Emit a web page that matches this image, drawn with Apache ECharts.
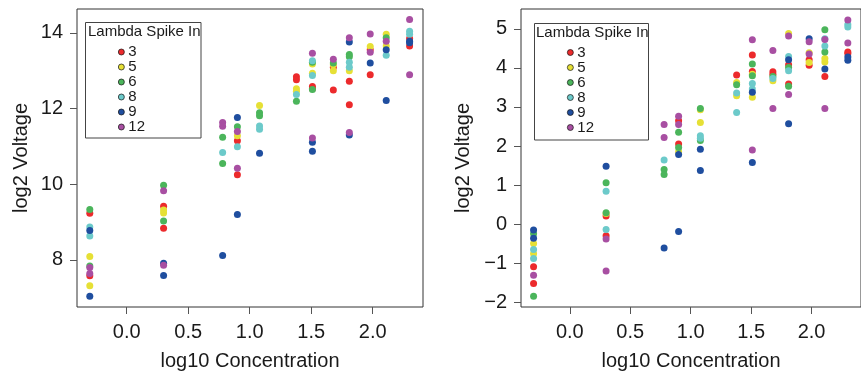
<!DOCTYPE html>
<html>
<head>
<meta charset="utf-8">
<script src="https://cdn.jsdelivr.net/npm/echarts@6/dist/echarts.min.js"></script>
<style>
  html, body { margin: 0; padding: 0; background: #fff; }
  #chart { width: 861px; height: 376px; }
</style>
</head>
<body>
<div id="chart"></div>
<script>
// Spike-in levels and their colours
const spikeLevels = ['3', '5', '6', '8', '9', '12'];
const spikeColors = ['#EC2A2C', '#E6E035', '#4BB55B', '#6CCACA', '#1F4E9F', '#A84FA2'];

// Tick labels
const xTicks = [0, 0.5, 1, 1.5, 2];
const leftYTicks = [8, 10, 12, 14];
const rightYTicks = [-2, -1, 0, 1, 2, 3, 4, 5];

// Left panel: [log10 concentration, log2 voltage]
const left3 = [[-0.3, 9.23], [-0.3, 7.58], [0.3, 9.42], [0.3, 8.84], [0.9, 11.15], [0.9, 10.25],
  [1.38, 12.84], [1.38, 12.76], [1.51, 12.58], [1.51, 12.52], [1.68, 13.09], [1.68, 12.49],
  [1.81, 12.72], [1.81, 12.10], [1.98, 13.55], [1.98, 12.89], [2.3, 13.85], [2.3, 13.65]];
const left5 = [[-0.3, 8.09], [-0.3, 7.32], [0.3, 9.24], [0.3, 9.32], [0.9, 11.28], [1.08, 12.08],
  [1.38, 12.52], [1.38, 12.46], [1.51, 13.18], [1.51, 12.93], [1.68, 13.16], [1.68, 13.00],
  [1.81, 13.00], [1.98, 13.64], [2.11, 13.96], [2.11, 13.65]];
const left6 = [[-0.3, 9.33], [-0.3, 7.84], [0.3, 9.97], [0.3, 9.03], [0.78, 11.24], [0.78, 10.55],
  [0.9, 11.52], [1.08, 11.89], [1.08, 11.81], [1.38, 12.19], [1.51, 13.22], [1.51, 12.50],
  [1.68, 13.20], [1.81, 13.43], [1.81, 13.37], [2.11, 13.87]];
const left8 = [[-0.3, 8.87], [-0.3, 8.63], [0.78, 10.84], [0.9, 10.99], [1.08, 11.54], [1.08, 11.45],
  [1.38, 12.37], [1.51, 13.26], [1.51, 12.87], [1.81, 13.22], [1.81, 13.09], [2.11, 13.41],
  [2.3, 14.04], [2.3, 13.96]];
const left9 = [[-0.3, 8.78], [-0.3, 7.04], [0.3, 7.91], [0.3, 7.59], [0.78, 8.12], [0.9, 11.76],
  [0.9, 9.20], [1.08, 10.82], [1.51, 11.11], [1.51, 10.87], [1.81, 13.76], [1.81, 11.30],
  [1.98, 13.20], [2.11, 13.55], [2.11, 12.21], [2.3, 13.78], [2.3, 13.74]];
const left12 = [[-0.3, 7.80], [-0.3, 7.64], [0.3, 9.83], [0.3, 7.86], [0.78, 11.63], [0.78, 11.53],
  [0.9, 11.39], [0.9, 10.42], [1.51, 13.46], [1.51, 11.22], [1.68, 13.30], [1.81, 13.87],
  [1.81, 11.37], [1.98, 13.97], [1.98, 13.49], [2.11, 13.78], [2.3, 14.35], [2.3, 12.89]];

// Right panel: [log10 concentration, log2 voltage]
const right3 = [[-0.3, -1.09], [-0.3, -1.52], [0.3, 0.21], [0.3, -0.30], [0.9, 2.65], [0.9, 2.05],
  [1.38, 3.82], [1.51, 4.33], [1.51, 3.91], [1.68, 3.90], [1.68, 3.84], [1.81, 4.08], [1.81, 3.59],
  [1.98, 4.21], [1.98, 4.07], [2.11, 3.78], [2.3, 4.41], [2.3, 4.37]];
const right5 = [[-0.3, -0.50], [-0.3, -0.76], [0.3, 0.27], [0.9, 1.85], [1.08, 2.93], [1.08, 2.60],
  [1.38, 3.63], [1.38, 3.29], [1.51, 3.84], [1.51, 3.25], [1.68, 3.67], [1.81, 4.88],
  [1.98, 4.39], [1.98, 4.14], [2.11, 4.24], [2.11, 4.15]];
const right6 = [[-0.3, -0.25], [-0.3, -1.85], [0.3, 1.06], [0.3, 0.29], [0.78, 1.40], [0.78, 1.27],
  [0.9, 2.35], [0.9, 1.96], [1.08, 2.96], [1.08, 2.14], [1.38, 3.57], [1.51, 4.10], [1.51, 3.80],
  [1.68, 3.78], [1.81, 4.01], [1.81, 3.53], [2.11, 4.98], [2.11, 4.41]];
const right8 = [[-0.3, -0.65], [-0.3, -0.88], [0.3, 0.84], [0.3, -0.14], [0.78, 1.64], [1.08, 2.26],
  [1.08, 2.20], [1.38, 3.36], [1.38, 2.86], [1.51, 3.60], [1.51, 3.46], [1.68, 3.73], [1.81, 4.29],
  [1.81, 3.93], [2.11, 4.75], [2.11, 4.56], [2.3, 5.11], [2.3, 5.05]];
const right9 = [[-0.3, -0.15], [-0.3, -0.36], [0.3, 1.48], [0.78, -0.61], [0.9, 1.78], [0.9, -0.19],
  [1.08, 1.92], [1.08, 1.37], [1.51, 3.38], [1.51, 1.58], [1.81, 4.21], [1.81, 2.57], [1.98, 4.75],
  [2.11, 3.97], [2.3, 4.28], [2.3, 4.20]];
const right12 = [[-0.3, -1.31], [0.3, -0.38], [0.3, -1.20], [0.78, 2.55], [0.78, 2.22], [0.9, 2.76],
  [0.9, 2.55], [1.51, 4.72], [1.51, 1.90], [1.68, 4.45], [1.68, 2.96], [1.81, 4.82], [1.81, 3.32],
  [1.98, 4.67], [1.98, 4.36], [2.11, 4.73], [2.11, 2.96], [2.3, 5.23], [2.3, 4.64]];

const leftSets = [left3, left5, left6, left8, left9, left12];
const rightSets = [right3, right5, right6, right8, right9, right12];

const FONT = 'Liberation Sans, Arial, Helvetica, sans-serif';
const INK = '#1a1a1a';

function minusFmt(v) {
  return v < 0 ? '\u2212' + Math.abs(v) : String(v);
}

function xAxisFor(gridIndex) {
  return {
    type: 'value', gridIndex: gridIndex, min: -0.404, max: 2.409,
    axisLine: { show: false, onZero: false },
    axisTick: { show: true, length: 7, customValues: xTicks, lineStyle: { color: '#555', width: 1 } },
    axisLabel: { customValues: xTicks, formatter: v => v.toFixed(1), fontSize: 20, fontFamily: FONT, color: INK, margin: 15 },
    splitLine: { show: false },
    name: 'log10 Concentration', nameLocation: 'middle', nameGap: 44,
    nameTextStyle: { fontSize: 20, fontFamily: FONT, color: INK }
  };
}

function yAxisFor(gridIndex, min, max, ticks, gap) {
  return {
    type: 'value', gridIndex: gridIndex, min: min, max: max,
    axisLine: { show: false, onZero: false },
    axisTick: { show: true, length: 7, customValues: ticks, lineStyle: { color: '#555', width: 1 } },
    axisLabel: { customValues: ticks, formatter: minusFmt, fontSize: 20, fontFamily: FONT, color: INK, margin: 14 },
    splitLine: { show: false },
    name: 'log2 Voltage', nameLocation: 'middle', nameGap: gap, nameRotate: 90,
    nameTextStyle: { fontSize: 20, fontFamily: FONT, color: INK }
  };
}

function legendFor(left, top) {
  return {
    orient: 'vertical', left: left, top: top, padding: 0,
    data: spikeLevels, icon: 'circle', itemWidth: 6, itemHeight: 6, itemGap: 0,
    selectedMode: false,
    itemStyle: { borderColor: '#111', borderWidth: 0.7 },
    textStyle: { fontSize: 15, fontFamily: FONT, color: INK, lineHeight: 14.5, padding: [0, 0, 0, -1] }
  };
}

const series = [];
spikeLevels.forEach((lvl, i) => {
  series.push({ type: 'scatter', name: lvl, xAxisIndex: 0, yAxisIndex: 0, data: leftSets[i],
    symbolSize: 7, itemStyle: { color: spikeColors[i], opacity: 1 }, emphasis: { disabled: true } });
});
spikeLevels.forEach((lvl, i) => {
  series.push({ type: 'scatter', name: lvl, xAxisIndex: 1, yAxisIndex: 1, data: rightSets[i],
    symbolSize: 7, itemStyle: { color: spikeColors[i], opacity: 1 }, emphasis: { disabled: true } });
});

const chart = echarts.init(document.getElementById('chart'), null, { renderer: 'canvas' });
chart.setOption({
  animation: false,
  backgroundColor: '#fff',
  color: spikeColors,
  grid: [
    { left: 77, top: 9, width: 346, height: 302, show: true, borderColor: '#333', borderWidth: 1, backgroundColor: 'transparent' },
    { left: 521, top: 9, width: 346, height: 302, show: true, borderColor: '#333', borderWidth: 1, backgroundColor: 'transparent' }
  ],
  xAxis: [xAxisFor(0), xAxisFor(1)],
  yAxis: [
    yAxisFor(0, 6.756, 14.63, leftYTicks, 46),
    yAxisFor(1, -2.124, 5.51, rightYTicks, 48)
  ],
  legend: [legendFor(118, 44.5), legendFor(567, 45)],
  graphic: [
    { type: 'rect', shape: { x: 85.5, y: 22.5, width: 115.5, height: 115.5 }, style: { fill: 'none', stroke: '#444', lineWidth: 1 } },
    { type: 'text', x: 88, y: 32, style: { text: 'Lambda Spike In', fontSize: 15, fontFamily: FONT, fill: INK, verticalAlign: 'middle' } },
    { type: 'rect', shape: { x: 534.5, y: 23.5, width: 114, height: 116.5 }, style: { fill: 'none', stroke: '#444', lineWidth: 1 } },
    { type: 'text', x: 536, y: 33, style: { text: 'Lambda Spike In', fontSize: 15, fontFamily: FONT, fill: INK, verticalAlign: 'middle' } }
  ],
  series: series
});
</script>
</body>
</html>
